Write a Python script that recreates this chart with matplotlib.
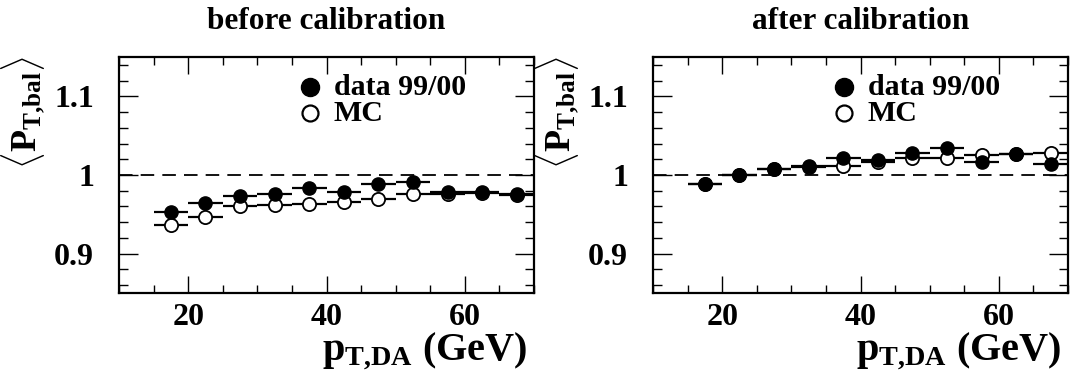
import matplotlib
matplotlib.use("Agg")
import matplotlib.pyplot as plt
from matplotlib.ticker import MultipleLocator
import numpy as np

plt.rcParams['font.family'] = ['Liberation Serif', 'DejaVu Serif']
plt.rcParams['font.weight'] = 'bold'
plt.rcParams['mathtext.fontset'] = 'custom'
plt.rcParams['mathtext.rm'] = 'Liberation Serif:bold'
plt.rcParams['mathtext.it'] = 'Liberation Serif:bold'
plt.rcParams['mathtext.bf'] = 'Liberation Serif:bold'

# bin centres (GeV) and half widths
pt_bins = [17.5, 22.5, 27.5, 32.5, 37.5, 42.5, 47.5, 52.5, 57.5, 62.5, 67.5]
bin_half = 2.5

# before calibration
data_before = [0.953, 0.964, 0.973, 0.976, 0.983, 0.979, 0.988, 0.991, 0.978, 0.979, 0.976]
mc_before = [0.936, 0.947, 0.960, 0.962, 0.963, 0.966, 0.969, 0.976, 0.976, 0.977, 0.975]

# after calibration
data_after = [0.989, 1.000, 1.008, 1.011, 1.021, 1.019, 1.028, 1.034, 1.017, 1.027, 1.014]
mc_after = [0.988, 1.000, 1.008, 1.010, 1.012, 1.016, 1.021, 1.022, 1.025, 1.027, 1.028]

titles = ["before calibration", "after calibration"]
legend_labels = ["data 99/00", "MC"]
x_ticks = [20, 40, 60]
y_ticks = [0.9, 1.0, 1.1]
y_ticklabels = ["0.9", "1", "1.1"]

fig = plt.figure(figsize=(10.72, 3.78), dpi=100)
ax_left = fig.add_axes([119/1072, 85/378, 415/1072, 236/378])
ax_right = fig.add_axes([653/1072, 85/378, 415/1072, 236/378])

panels = [(ax_left, data_before, mc_before, titles[0]),
          (ax_right, data_after, mc_after, titles[1])]

for ax, dvals, mvals, title in panels:
    ax.set_xlim(10, 70)
    ax.set_ylim(0.85, 1.15)
    ax.axhline(1.0, color='black', lw=1.3, ls=(0, (7.5, 4.5)), zorder=1)
    xe = [bin_half] * len(pt_bins)
    ax.errorbar(pt_bins, mvals, xerr=xe, fmt='o', ms=9.5, mfc='white', mec='black',
                mew=1.3, ecolor='black', elinewidth=1.6, capsize=0, zorder=3)
    ax.errorbar(pt_bins, dvals, xerr=xe, fmt='o', ms=9.5, mfc='black', mec='black',
                mew=1.0, ecolor='black', elinewidth=1.6, capsize=0, zorder=4)

    ax.set_xticks(x_ticks)
    ax.set_xticklabels([str(t) for t in x_ticks])
    ax.set_yticks(y_ticks)
    ax.set_yticklabels(y_ticklabels)
    ax.xaxis.set_minor_locator(MultipleLocator(5))
    ax.yaxis.set_minor_locator(MultipleLocator(0.02))
    ax.tick_params(which='both', direction='in', top=True, right=True, width=1.0,
                   labelsize=23)
    ax.tick_params(axis='x', which='major', length=12.5, pad=7)
    ax.tick_params(axis='x', which='minor', length=6)
    ax.tick_params(axis='y', which='major', length=13.5, pad=18)
    ax.tick_params(axis='y', which='minor', length=6.5)
    for lab in ax.get_xticklabels() + ax.get_yticklabels():
        lab.set_fontweight('bold')
    for sp in ax.spines.values():
        sp.set_linewidth(1.6)

    ax.text(0.5, 1.15, title, transform=ax.transAxes, ha='center', va='center',
            fontsize=22.5, fontweight='bold')
    ax.text(0.985, -0.245, r'$\mathbf{p_{T{,}DA}}$ (GeV)', transform=ax.transAxes,
            ha='right', va='center', fontsize=29, fontweight='bold')
    ax.text(-0.23, 0.765, r'$\langle\mathbf{P_{T{,}bal}}\rangle$', transform=ax.transAxes,
            ha='center', va='center', rotation=90, fontsize=26, fontweight='bold')

    # legend
    ax.plot([0.46], [0.872], transform=ax.transAxes, marker='o', ms=13, mfc='black',
            mec='black', ls='none', clip_on=False)
    ax.plot([0.46], [0.762], transform=ax.transAxes, marker='o', ms=11.5, mfc='white',
            mec='black', mew=1.6, ls='none', clip_on=False)
    ax.text(0.518, 0.872, legend_labels[0], transform=ax.transAxes, ha='left',
            va='center', fontsize=21.5, fontweight='bold')
    ax.text(0.518, 0.762, legend_labels[1], transform=ax.transAxes, ha='left',
            va='center', fontsize=21.5, fontweight='bold')

fig.savefig("out.png", dpi=100)
